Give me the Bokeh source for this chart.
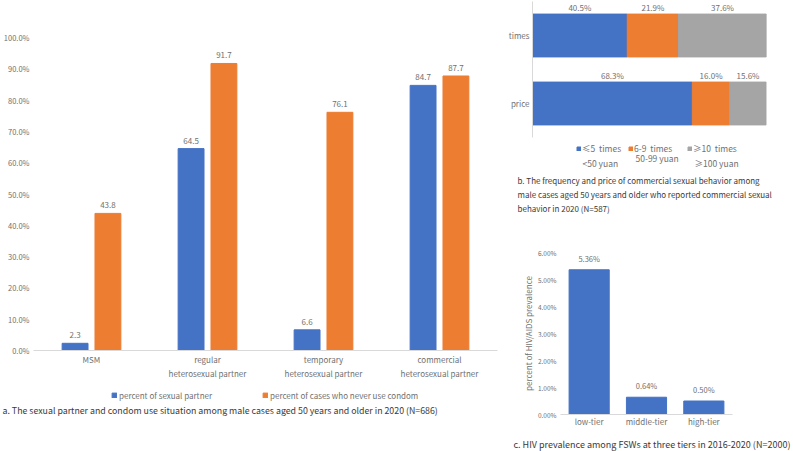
import numpy as np
from bokeh.plotting import figure
from bokeh.layouts import row, column
from bokeh.models import (ColumnDataSource, FactorRange, Range1d, Legend, LegendItem, Label,
                          FixedTicker, PrintfTickFormatter, CategoricalAxis,
                          CustomJSTickFormatter)
from bokeh.transform import dodge
from bokeh.core.properties import value
from bokeh.embed import file_html
from bokeh.resources import INLINE

FONT = "Noto Sans CJK SC"
TICK = "#707070"
CAP = "#3a3a3a"
BLUE = "#4472C4"
ORANGE = "#ED7D31"
GRAY = "#A5A5A5"
AXIS = "#d9d9d9"

# ---------------- data: panel a ----------------
partner_types = ["MSM", "regular heterosexual partner",
                 "temporary heterosexual partner", "commercial heterosexual partner"]
partner_line1 = ["MSM", "regular", "temporary", "commercial"]
partner_line2 = ["", "heterosexual partner", "heterosexual partner", "heterosexual partner"]
pct_sexual_partner = [2.3, 64.5, 6.6, 84.7]
pct_never_condom = [43.8, 91.7, 76.1, 87.7]
series_a = ["percent of sexual partner", "percent of cases who never use condom"]
yticks_a = [0, 10, 20, 30, 40, 50, 60, 70, 80, 90, 100]
caption_a = ("a. The sexual partner and condom  use situation among male cases aged "
             "50 years and older in 2020 (N=686)")

# ---------------- data: panel b ----------------
b_rows = ["times", "price"]
b_levels_line1 = ["\u22645  times", "6-9  times", "\u226510  times"]
b_levels_line2 = ["<50 yuan", "50-99 yuan", "\u2265100 yuan"]
b_low = [40.5, 68.3]
b_mid = [21.9, 16.0]
b_high = [37.6, 15.6]
caption_b = ["b. The frequency and price of commercial sexual behavior among",
             "male cases aged 50 years and older who reported commercial sexual",
             "behavior in 2020 (N=587)"]

# ---------------- data: panel c ----------------
tiers = ["low-tier", "middle-tier", "high-tier"]
prevalence = [5.36, 0.64, 0.50]
yticks_c = [0, 1, 2, 3, 4, 5, 6]
caption_c = "c. HIV prevalence among FSWs at three tiers in 2016-2020 (N=2000)"

NO_POINT = np.array([np.nan])   # legend proxies draw nothing in the plot area


def style_common(p):
    p.outline_line_color = None
    p.background_fill_color = None
    p.border_fill_color = None
    for g in p.grid:
        g.grid_line_color = None


def style_labels(ax, size="8px"):
    ax.major_label_text_font = FONT
    ax.major_label_text_font_size = size
    ax.major_label_text_color = TICK


def lookup_formatter(keys, vals):
    return CustomJSTickFormatter(args=dict(keys=keys, vals=vals),
                                 code="const i = keys.indexOf(tick); return i >= 0 ? vals[i] : '';")


def footer(width, height):
    f = figure(width=width, height=height, x_range=Range1d(0, 1), y_range=Range1d(0, 1),
               x_axis_type=None, y_axis_type=None, output_backend="svg",
               toolbar_location=None, min_border=0, frame_align=False)
    f.outline_line_color = None
    f.background_fill_color = None
    f.border_fill_color = None
    return f


def text_label(x, y, text, size, color=CAP):
    return Label(x=x, y=y, x_units="screen", y_units="screen", text=text,
                 text_font=FONT, text_font_size=size, text_color=color,
                 text_baseline="middle", text_align="left")


def legend(items, loc, size="8px", glyph=6, label_width=0, spacing=2, standoff=2):
    return Legend(items=items, location=loc, orientation="horizontal", spacing=spacing,
                  glyph_width=glyph, glyph_height=glyph, label_standoff=standoff,
                  label_width=label_width, label_height=12, label_text_font=FONT,
                  label_text_font_size=size, label_text_color=TICK,
                  border_line_color=None, background_fill_alpha=0, padding=0, margin=0)


# ================= panel a : chart =================
pa = figure(width=505, height=382, x_range=FactorRange(factors=partner_types),
            y_range=Range1d(0, 100), output_backend="svg", toolbar_location=None,
            frame_align=False,
            min_border_top=37, min_border_bottom=32, min_border_left=32, min_border_right=8)
style_common(pa)
src_a = ColumnDataSource(dict(
    cat=partner_types, sp=pct_sexual_partner, nc=pct_never_condom,
    sp_lbl=[f"{v:.1f}" for v in pct_sexual_partner],
    nc_lbl=[f"{v:.1f}" for v in pct_never_condom]))
pa.vbar(x=dodge("cat", -0.1416, range=pa.x_range), top="sp", width=0.223,
        source=src_a, color=BLUE)
pa.vbar(x=dodge("cat", 0.1416, range=pa.x_range), top="nc", width=0.223,
        source=src_a, color=ORANGE)
for col, off in (("sp", -0.1416), ("nc", 0.1416)):
    pa.text(x=dodge("cat", off, range=pa.x_range), y=col, text=col + "_lbl", source=src_a,
            text_align="center", text_baseline="bottom", y_offset=-5,
            text_font_size="8px", text_color=TICK, text_font=value(FONT))
pa.yaxis.ticker = FixedTicker(ticks=yticks_a)
pa.yaxis.formatter = PrintfTickFormatter(format="%.1f%%")
pa.yaxis.axis_line_color = None
pa.yaxis.major_tick_line_color = None
pa.yaxis.minor_tick_line_color = None
pa.yaxis.major_tick_out = 0
pa.yaxis.major_label_standoff = 4
style_labels(pa.yaxis[0], "7.5px")
pa.xaxis.axis_line_color = AXIS
pa.xaxis.major_tick_line_color = None
pa.xaxis.major_tick_out = 0
pa.xaxis.major_label_standoff = 3
pa.xaxis.formatter = lookup_formatter(partner_types, partner_line1)
style_labels(pa.xaxis[0])
ax2 = CategoricalAxis(axis_line_color=None, major_tick_line_color=None, major_tick_out=0,
                      minor_tick_line_color=None, major_label_standoff=0,
                      formatter=lookup_formatter(partner_types, partner_line2))
style_labels(ax2)
pa.add_layout(ax2, "below")

# ================= panel a : legend + caption =================
fa = footer(505, 69)
ka1 = fa.vbar(x=NO_POINT, top=NO_POINT, width=1, color=BLUE)
ka2 = fa.vbar(x=NO_POINT, top=NO_POINT, width=1, color=ORANGE)
fa.add_layout(legend([LegendItem(label=series_a[0], renderers=[ka1]),
                      LegendItem(label=series_a[1], renderers=[ka2])],
                     (111, 50), label_width=141, spacing=2), "center")
fa.add_layout(text_label(2, 41, caption_a, "8.8px"))

# ================= panel b : chart =================
pb = figure(width=288, height=140, y_range=FactorRange(factors=b_rows[::-1]),
            x_range=Range1d(0, 100), output_backend="svg", toolbar_location=None,
            frame_align=False,
            min_border_top=1, min_border_bottom=3, min_border_left=27, min_border_right=27)
style_common(pb)
lo_c = [a / 2 for a in b_low]
mi_c = [a + b / 2 for a, b in zip(b_low, b_mid)]
hi_c = [a + b + c / 2 for a, b, c in zip(b_low, b_mid, b_high)]
src_b = ColumnDataSource(dict(row=b_rows, low=b_low, mid=b_mid, high=b_high,
                              lo_c=lo_c, mi_c=mi_c, hi_c=hi_c,
                              lo_l=[f"{v:.1f}%" for v in b_low],
                              mi_l=[f"{v:.1f}%" for v in b_mid],
                              hi_l=[f"{v:.1f}%" for v in b_high]))
pb.hbar_stack(["low", "mid", "high"], y="row", height=0.63,
              color=[BLUE, ORANGE, GRAY], source=src_b)
for xc, lab in (("lo_c", "lo_l"), ("mi_c", "mi_l"), ("hi_c", "hi_l")):
    pb.text(x=xc, y=dodge("row", 0.315, range=pb.y_range), text=lab, source=src_b,
            text_align="center", text_baseline="bottom", y_offset=-1,
            text_font_size="8px", text_color=TICK, text_font=value(FONT))
pb.xaxis.visible = False
pb.yaxis.axis_line_color = AXIS
pb.yaxis.major_tick_line_color = None
pb.yaxis.major_tick_out = 0
pb.yaxis.major_label_standoff = 3
style_labels(pb.yaxis[0])

# ================= panel b : legend + caption =================
fb = footer(288, 85)
kb = [fb.vbar(x=NO_POINT, top=NO_POINT, width=1, color=c) for c in (BLUE, ORANGE, GRAY)]
for lab, r, gx in zip(b_levels_line1, kb, (71, 123, 182)):
    fb.add_layout(legend([LegendItem(label=lab, renderers=[r])], (gx, 71),
                         size="8.5px", glyph=5, standoff=1), "center")
for lab, lx, ly in zip(b_levels_line2, (77, 130, 189), (63, 68, 63)):
    fb.add_layout(text_label(lx, ly, lab, "8.5px", TICK))
for line, ly in zip(caption_b, (45, 31, 17)):
    fb.add_layout(text_label(12, ly, line, "8px"))

# ================= panel c : chart =================
pc = figure(width=288, height=204, x_range=FactorRange(factors=tiers),
            y_range=Range1d(0, 6), output_backend="svg", toolbar_location=None,
            frame_align=False,
            min_border_top=27, min_border_bottom=12, min_border_left=55, min_border_right=61)
style_common(pc)
src_c = ColumnDataSource(dict(tier=tiers, val=prevalence,
                              lbl=[f"{v:.2f}%" for v in prevalence]))
pc.vbar(x="tier", top="val", width=0.7, source=src_c, color=BLUE)
pc.text(x="tier", y="val", text="lbl", source=src_c, text_align="center",
        text_baseline="bottom", y_offset=-6, text_font_size="7.5px", text_color=TICK,
        text_font=value(FONT))
pc.yaxis.ticker = FixedTicker(ticks=yticks_c)
pc.yaxis.formatter = PrintfTickFormatter(format="%.2f%%")
pc.yaxis.axis_line_color = None
pc.yaxis.major_tick_line_color = None
pc.yaxis.minor_tick_line_color = None
pc.yaxis.major_tick_out = 0
pc.yaxis.major_label_standoff = 4
pc.yaxis.axis_label = "percent of HIV/AIDS prevalence"
pc.yaxis.axis_label_text_font = FONT
pc.yaxis.axis_label_text_font_size = "8px"
pc.yaxis.axis_label_text_font_style = "normal"
pc.yaxis.axis_label_text_color = TICK
pc.yaxis.axis_label_standoff = 1
style_labels(pc.yaxis[0], "6.5px")
pc.xaxis.axis_line_color = AXIS
pc.xaxis.major_tick_line_color = None
pc.xaxis.major_tick_out = 0
pc.xaxis.major_label_standoff = 1
style_labels(pc.xaxis[0])

# ================= panel c : caption =================
fc = footer(288, 22)
fc.add_layout(text_label(8, 7, caption_c, "9px"))

layout = row(column(pa, fa, spacing=0), column(pb, fb, pc, fc, spacing=0), spacing=0)
open("out.html", "w").write(file_html(layout, INLINE))
